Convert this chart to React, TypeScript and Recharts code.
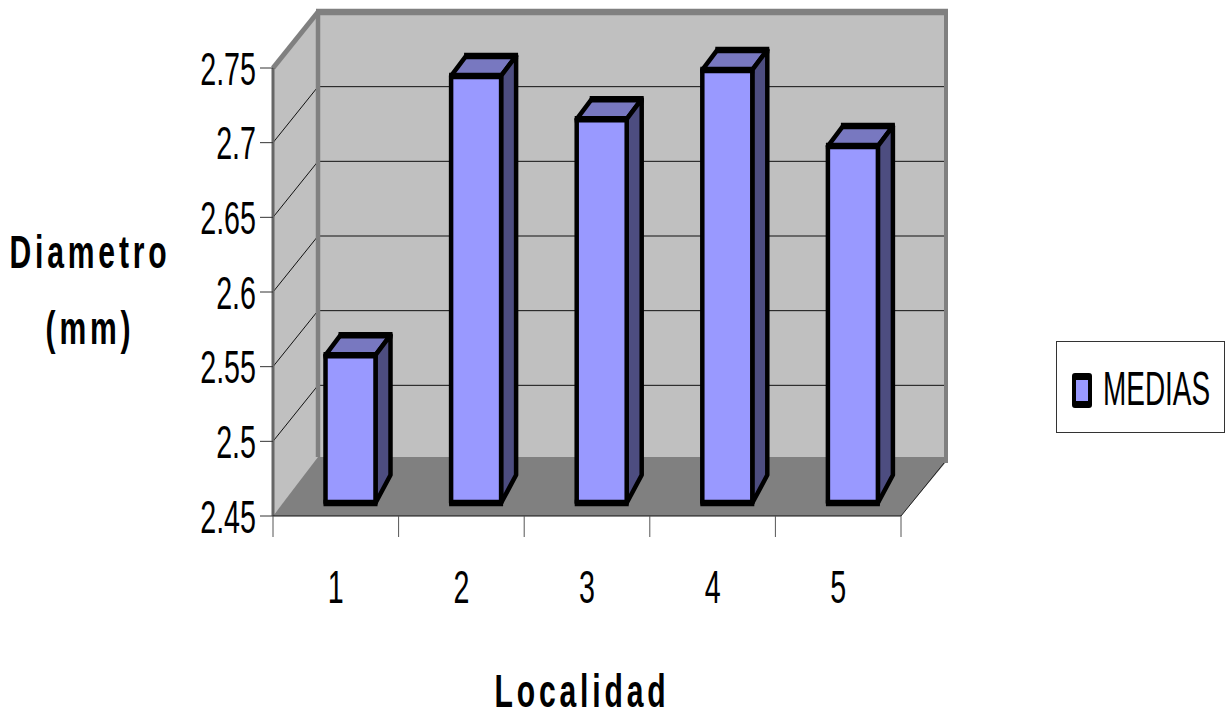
import React from 'react';
import { BarChart, Bar, XAxis, YAxis, Legend, Customized, usePlotArea } from 'recharts';

const localidades = ['1', '2', '3', '4', '5'];
const medias = [2.549, 2.736, 2.707, 2.74, 2.689];
const yTicks = [2.45, 2.5, 2.55, 2.6, 2.65, 2.7, 2.75];

const data = localidades.map((localidad, i) => ({ localidad, media: medias[i] }));

const Y_MIN = 2.45;
const Y_MAX = 2.75;
const DEPTH_X = 45;
const DEPTH_Y = 56;
const GRAY = '#808080';
const FONT = '"Liberation Sans", Arial, sans-serif';

// No condensed face is installed, so the regular one is squeezed horizontally
const NarrowText = ({ x, y, children, anchor = 'middle', size = 47, squeeze = 0.61, bold = false, spacing = 0 }: any) => (
  <text
    transform={`translate(${x},${y}) scale(${squeeze},1)`}
    textAnchor={anchor}
    fontFamily={FONT}
    fontSize={size}
    fontWeight={bold ? 'bold' : 'normal'}
    letterSpacing={spacing}
    fill="#000"
  >
    {children}
  </text>
);

const YTick = ({ x, y, payload }: any) => (
  <NarrowText x={x} y={y + 16.5} anchor="end">{String(payload.value)}</NarrowText>
);

const XTick = ({ x, y, payload }: any) => (
  <NarrowText x={x} y={y + 87}>{payload.value}</NarrowText>
);

// Back wall, side wall and floor of the 3D box, plus the gridlines on them
const Box3D = () => {
  const plot = usePlotArea();
  if (!plot) return null;
  const { x, y, width, height } = plot;
  const right = x + width;
  const bottom = y + height;
  const backBottom = bottom - DEPTH_Y;
  const toY = (v: number) => y + ((Y_MAX - v) / (Y_MAX - Y_MIN)) * height;
  return (
    <g>
      <polygon
        points={`${x},${y} ${x + DEPTH_X},${y - DEPTH_Y} ${x + DEPTH_X},${backBottom} ${x},${bottom}`}
        fill="#c0c0c0"
      />
      <rect x={x + DEPTH_X} y={y - DEPTH_Y} width={width} height={height} fill="#c0c0c0" />
      {yTicks.slice(1, -1).map((t) => (
        <g key={t} stroke="#111" strokeWidth={1}>
          <line x1={x} y1={toY(t)} x2={x + DEPTH_X} y2={toY(t) - DEPTH_Y} />
          <line x1={x + DEPTH_X} y1={toY(t) - DEPTH_Y} x2={right + DEPTH_X} y2={toY(t) - DEPTH_Y} />
        </g>
      ))}
      <polygon
        points={`${x},${bottom} ${x + DEPTH_X},${backBottom - 3} ${right + DEPTH_X},${backBottom - 3} ${right + DEPTH_X},${backBottom + 2} ${right},${bottom}`}
        fill={GRAY}
      />
      <line x1={x} y1={y} x2={x + DEPTH_X} y2={y - DEPTH_Y} stroke={GRAY} strokeWidth={5} />
      <line x1={x} y1={y} x2={x} y2={bottom} stroke="#666" strokeWidth={3} />
      <line x1={x + DEPTH_X} y1={y - DEPTH_Y} x2={x + DEPTH_X} y2={backBottom - 3} stroke={GRAY} strokeWidth={4.5} />
      <line x1={right + DEPTH_X} y1={y - DEPTH_Y} x2={right + DEPTH_X} y2={backBottom + 3} stroke={GRAY} strokeWidth={4} />
      <line x1={x + DEPTH_X - 2} y1={y - DEPTH_Y} x2={right + DEPTH_X + 2} y2={y - DEPTH_Y} stroke={GRAY} strokeWidth={6.5} />
      <line x1={right} y1={bottom} x2={right + DEPTH_X - 2} y2={backBottom + 3} stroke="#222" strokeWidth={1} />
      <line x1={x} y1={bottom} x2={right} y2={bottom} stroke="#111" strokeWidth={1} />
      {/* category ticks sit on the band edges, not the band centres */}
      {[0, ...localidades.map((_, i) => i + 1)].map((i) => {
        const tx = x + (i * width) / localidades.length;
        return <line key={i} x1={tx} y1={bottom} x2={tx} y2={bottom + 21} stroke="#555" strokeWidth={1} />;
      })}
    </g>
  );
};

const AxisTitles = () => (
  <g>
    <NarrowText x={90} y={268} size={47} squeeze={0.64} bold spacing={6}>Diametro</NarrowText>
    <NarrowText x={90} y={344} size={47} squeeze={0.64} bold spacing={6}>(mm)</NarrowText>
    <NarrowText x={582} y={707} size={47} squeeze={0.64} bold spacing={6}>Localidad</NarrowText>
  </g>
);

// Front face, top and side of one column, set back from the front plane of the box
const Bar3D = (props: any) => {
  const { x, y, width, height } = props;
  const left = x + 14.5;
  const right = left + width;
  const top = y - 13;
  const bottom = y + height - 13;
  const side = { stroke: '#000', strokeWidth: 4.5, strokeLinejoin: 'round' as const };
  const heavy = { stroke: '#000', strokeWidth: 6.5 };
  return (
    <g>
      <polygon
        points={`${left},${top} ${left + 15},${top - 20} ${right + 15},${top - 20} ${right},${top}`}
        fill="#7878c0"
        {...side}
      />
      <polygon
        points={`${right},${top} ${right + 15},${top - 20} ${right + 15},${bottom - 28} ${right},${bottom}`}
        fill="#4d4d80"
        {...side}
      />
      <rect x={left} y={top} width={width} height={bottom - top} fill="#9999ff" {...side} />
      <line x1={left - 2} y1={top} x2={right + 2} y2={top} {...heavy} />
      <line x1={left + 13} y1={top - 20} x2={right + 17} y2={top - 20} {...heavy} />
      <line x1={left - 2} y1={bottom} x2={right + 2} y2={bottom} {...heavy} />
    </g>
  );
};

const MediasLegend = () => (
  <div
    style={{
      position: 'relative',
      width: 169,
      height: 92,
      boxSizing: 'border-box',
      border: '1px solid #333',
      background: '#fff',
    }}
  >
    <div
      style={{
        position: 'absolute',
        left: 15,
        top: 31,
        width: 20,
        height: 35,
        boxSizing: 'border-box',
        borderStyle: 'solid',
        borderColor: '#000',
        borderWidth: '7px 4px',
        borderRadius: 3,
        background: '#9999ff',
      }}
    />
    <span
      style={{
        position: 'absolute',
        left: 46,
        top: 18,
        fontFamily: FONT,
        fontSize: 49,
        lineHeight: '56px',
        color: '#000',
        transform: 'scaleX(0.57)',
        transformOrigin: 'left center',
        whiteSpace: 'nowrap',
      }}
    >
      MEDIAS
    </span>
  </div>
);

export default function App() {
  return (
    <div style={{ position: 'absolute', left: 0, top: 0, width: 1227, height: 717, background: '#fff' }}>
      <BarChart
        width={1227}
        height={717}
        data={data}
        margin={{ top: 68, right: 157, bottom: 141, left: 193 }}
      >
        <Customized component={Box3D} />
        <XAxis
          dataKey="localidad"
          height={60}
          axisLine={false}
          tickLine={false}
          tickSize={0}
          tickMargin={0}
          tick={<XTick />}
          interval={0}
        />
        <YAxis
          width={80}
          domain={[Y_MIN, Y_MAX]}
          ticks={yTicks}
          axisLine={false}
          tickSize={13}
          tickMargin={4}
          tickLine={{ stroke: '#333', strokeWidth: 1 }}
          tick={<YTick />}
          interval={0}
        />
        <Legend
          layout="vertical"
          align="right"
          verticalAlign="middle"
          content={<MediasLegend />}
          wrapperStyle={{ position: 'absolute', left: 1056, top: 341, width: 169 }}
        />
        <Bar dataKey="media" name="MEDIAS" barSize={50} shape={<Bar3D />} isAnimationActive={false} />
        <Customized component={AxisTitles} />
      </BarChart>
    </div>
  );
}
